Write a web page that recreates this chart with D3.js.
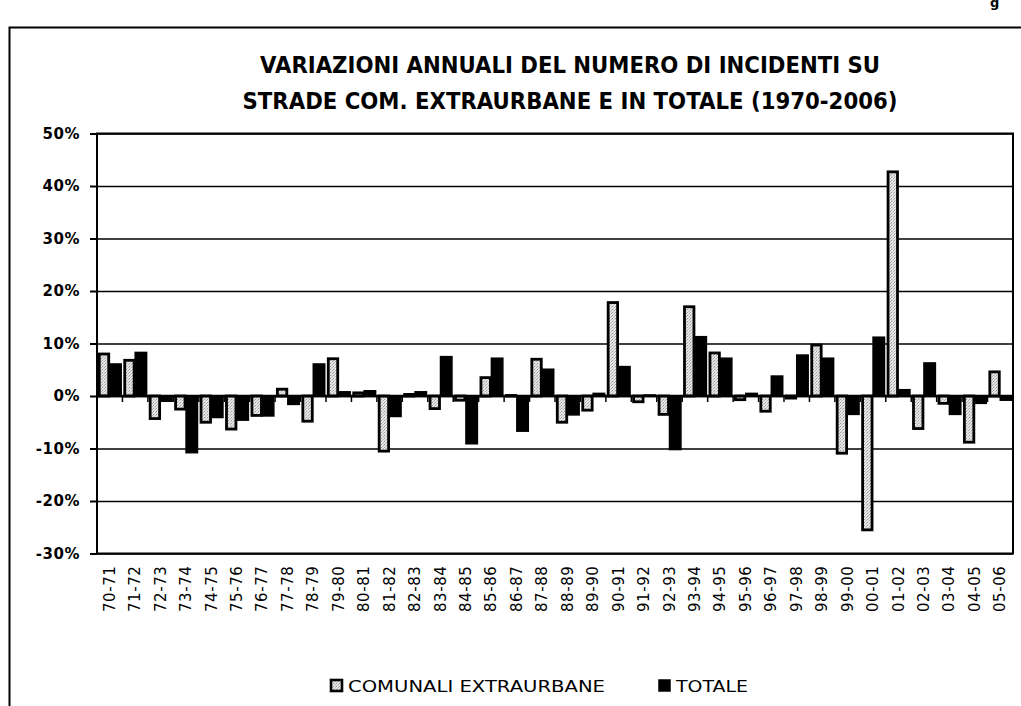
<!DOCTYPE html>
<html>
<head>
<meta charset="utf-8">
<script src="https://cdn.jsdelivr.net/npm/d3@7"></script>
<style>
  body { margin: 0; background: #fff; }
  text { font-family: "DejaVu Sans", sans-serif; }
</style>
</head>
<body>
<svg id="chart"></svg>
<script>
const categories = ["70-71", "71-72", "72-73", "73-74", "74-75", "75-76", "76-77", "77-78", "78-79", "79-80",
    "80-81", "81-82", "82-83", "83-84", "84-85", "85-86", "86-87", "87-88", "88-89", "89-90",
    "90-91", "91-92", "92-93", "93-94", "94-95", "95-96", "96-97", "97-98", "98-99", "99-00",
    "00-01", "01-02", "02-03", "03-04", "04-05", "05-06"];

// variazioni annuali in %
const comunali = [8.0, 6.8, -4.3, -2.5, -5.0, -6.3, -3.7, 1.3, -4.8, 7.1,
    0.6, -10.5, 0.3, -2.4, -0.8, 3.5, 0.1, 7.0, -5.0, -2.7,
    17.8, -1.1, -3.5, 17.0, 8.2, -0.7, -2.9, -0.4, 9.7, -10.9,
    -25.5, 42.7, -6.2, -1.4, -8.8, 4.6];
const totale = [6.1, 8.3, -1.0, -10.8, -4.1, -4.6, -3.8, -1.6, 6.1, 0.8,
    1.0, -3.9, 0.8, 7.5, -9.1, 7.2, -6.7, 5.1, -3.6, 0.5,
    5.6, 0.2, -10.2, 11.3, 7.2, 0.5, 3.8, 7.8, 7.2, -3.5,
    11.2, 1.2, 6.3, -3.5, -1.4, -0.8];

const yTicks = [-30, -20, -10, 0, 10, 20, 30, 40, 50];
const seriesNames = ["COMUNALI EXTRAURBANE", "TOTALE"];
const titleLines = ["VARIAZIONI ANNUALI DEL NUMERO DI INCIDENTI SU",
    "STRADE COM. EXTRAURBANE E IN TOTALE (1970-2006)"];

const dimensions = {
    width: 1021,
    height: 706,
    plot: { left: 97, right: 1013, top: 133.5, bottom: 553.5 }
};

const data = categories.map((c, i) => ({ cat: c, C: comunali[i], T: totale[i] }));

var svg = d3.select("#chart")
    .attr("width", dimensions.width)
    .attr("height", dimensions.height);

// stipple for the light bars
const pat = svg.append("defs").append("pattern")
    .attr("id", "dots")
    .attr("width", 3).attr("height", 3)
    .attr("patternUnits", "userSpaceOnUse");
pat.append("rect").attr("width", 3).attr("height", 3).attr("fill", "#e6e6e6");
pat.append("rect").attr("x", 0).attr("y", 0).attr("width", 1).attr("height", 1).attr("fill", "#9a9a9a");
pat.append("rect").attr("x", 2).attr("y", 1).attr("width", 1).attr("height", 1).attr("fill", "#b0b0b0");
pat.append("rect").attr("x", 1).attr("y", 2).attr("width", 1).attr("height", 1).attr("fill", "#c4c4c4");

svg.append("rect").attr("width", dimensions.width).attr("height", dimensions.height).attr("fill", "#fff");

// outer frame
svg.append("rect")
    .attr("x", 9.5).attr("y", 27.5)
    .attr("width", 1100).attr("height", 800)
    .attr("fill", "none").attr("stroke", "#000").attr("stroke-width", 2);

// piece of page text at the top right (only its lower part is on the page)
svg.append("text").attr("x", 990).attr("y", 7).style("font-size", "13px").style("font-weight", "bold").text("g");

// title
svg.selectAll(".title")
    .data(titleLines)
    .enter()
    .append("text")
    .attr("class", "title")
    .attr("x", 570)
    .attr("y", (d, i) => 73 + i * 36)
    .attr("text-anchor", "middle")
    .attr("textLength", (d, i) => i === 0 ? 620 : 655)
    .attr("lengthAdjust", "spacingAndGlyphs")
    .style("font-size", "23px")
    .style("font-weight", "bold")
    .text(d => d);

var yScale = d3.scaleLinear()
    .domain([-30, 50])
    .range([dimensions.plot.bottom, dimensions.plot.top]);

var xScale = d3.scaleBand()
    .domain(categories)
    .range([dimensions.plot.left, dimensions.plot.right])
    .paddingInner(0.1)
    .paddingOuter(0.05);

var xSub = d3.scaleBand()
    .domain(["C", "T"])
    .range([0, xScale.bandwidth()]);

const plotW = dimensions.plot.right - dimensions.plot.left;

// gridlines
svg.append("g")
    .attr("transform", `translate(${dimensions.plot.left},0)`)
    .call(d3.axisLeft(yScale).tickValues(yTicks).tickSize(-plotW).tickFormat(""))
    .call(g => g.select(".domain").remove())
    .selectAll("line")
    .attr("stroke", "#000")
    .attr("stroke-width", 1.6);

// bars
svg.append("g")
    .selectAll("rect")
    .data(data)
    .enter()
    .append("rect")
    .attr("x", d => xScale(d.cat) + xSub("C") + 1)
    .attr("y", d => yScale(Math.max(0, d.C)))
    .attr("width", xSub.bandwidth() - 2)
    .attr("height", d => Math.abs(yScale(d.C) - yScale(0)))
    .attr("fill", "url(#dots)")
    .attr("stroke", "#000")
    .attr("stroke-width", 2.8);

svg.append("g")
    .selectAll("rect")
    .data(data)
    .enter()
    .append("rect")
    .attr("x", d => xScale(d.cat) + xSub("T"))
    .attr("y", d => yScale(Math.max(0, d.T)))
    .attr("width", xSub.bandwidth())
    .attr("height", d => Math.abs(yScale(d.T) - yScale(0)))
    .attr("fill", "#000")
    .attr("stroke", "#000")
    .attr("stroke-width", 1.5);

// zero line with category ticks
svg.append("line")
    .attr("x1", dimensions.plot.left).attr("x2", dimensions.plot.right)
    .attr("y1", yScale(0)).attr("y2", yScale(0))
    .attr("stroke", "#000").attr("stroke-width", 2.6);

const step = xScale.step();
svg.append("g")
    .selectAll("line")
    .data(d3.range(1, categories.length))
    .enter()
    .append("line")
    .attr("x1", i => xScale(categories[i]) - step * xScale.paddingInner() / 2)
    .attr("x2", i => xScale(categories[i]) - step * xScale.paddingInner() / 2)
    .attr("y1", yScale(0)).attr("y2", yScale(0) + 6)
    .attr("stroke", "#000").attr("stroke-width", 1.5);

// plot border
svg.append("rect")
    .attr("x", dimensions.plot.left).attr("y", dimensions.plot.top)
    .attr("width", plotW).attr("height", dimensions.plot.bottom - dimensions.plot.top)
    .attr("fill", "none").attr("stroke", "#000").attr("stroke-width", 2);

// y axis
svg.append("g")
    .attr("transform", `translate(${dimensions.plot.left},0)`)
    .call(d3.axisLeft(yScale).tickValues(yTicks).tickSize(7).tickPadding(10).tickFormat(d => d + "%"))
    .call(g => g.select(".domain").remove())
    .call(g => g.selectAll("line").attr("stroke", "#000").attr("stroke-width", 2))
    .selectAll("text")
    .attr("fill", "#000")
    .style("font-family", "'DejaVu Sans', sans-serif")
    .style("font-size", "15px")
    .style("font-weight", "bold")
    .style("letter-spacing", "0.5px");

// category labels
svg.append("g")
    .selectAll("text")
    .data(categories)
    .enter()
    .append("text")
    .attr("transform", d => `translate(${xScale(d) + xScale.bandwidth() / 2 + 5}, ${dimensions.plot.bottom + 12}) rotate(-90)`)
    .attr("text-anchor", "end")
    .style("font-size", "15px")
    .style("letter-spacing", "0.6px")
    .text(d => d);

// legend
const legendX = [330, 658];
const legend = svg.selectAll(".legend")
    .data(seriesNames)
    .enter()
    .append("g")
    .attr("class", "legend")
    .attr("transform", (d, i) => `translate(${legendX[i]}, 686)`);

legend.append("rect")
    .attr("x", 1).attr("y", -6)
    .attr("width", 11).attr("height", 11)
    .attr("fill", (d, i) => i === 0 ? "url(#dots)" : "#000")
    .attr("stroke", "#000")
    .attr("stroke-width", (d, i) => i === 0 ? 2.6 : 1.5);

legend.append("text")
    .attr("x", 18)
    .attr("y", 6)
    .attr("textLength", (d, i) => i === 0 ? 257 : 72)
    .attr("lengthAdjust", "spacingAndGlyphs")
    .style("font-size", "16px")
    .text(d => d);
</script>
</body>
</html>
